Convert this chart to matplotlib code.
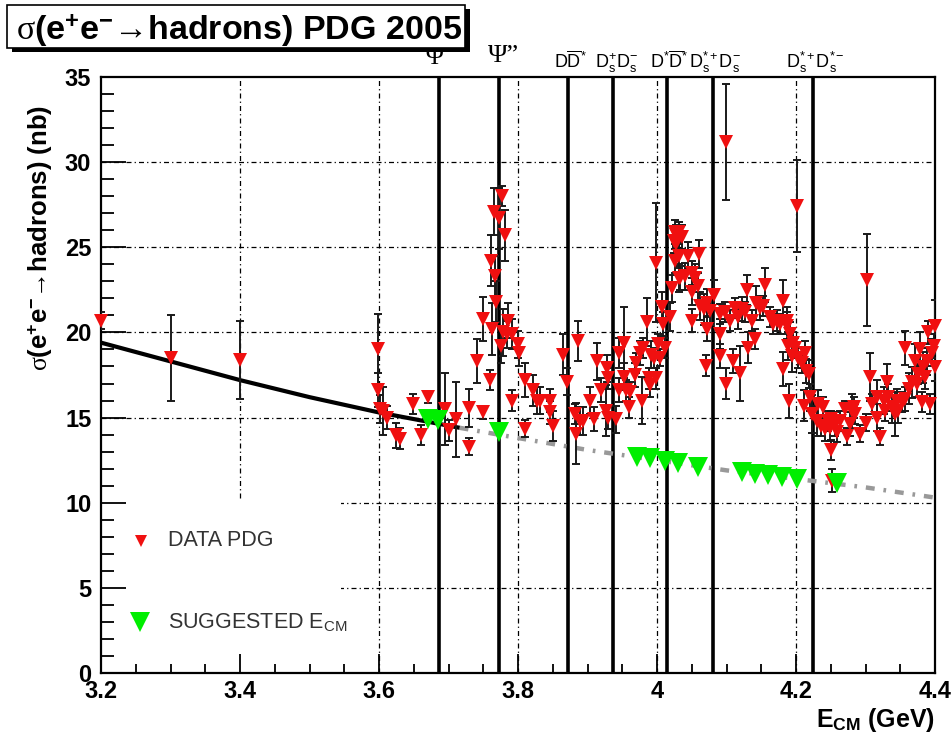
import matplotlib
matplotlib.use('Agg')
import matplotlib.pyplot as plt
from matplotlib.patches import Rectangle
from matplotlib.ticker import MultipleLocator, FixedLocator, FixedFormatter

plt.rcParams['font.family'] = ['Liberation Sans', 'DejaVu Sans']
plt.rcParams['mathtext.fontset'] = 'custom'
plt.rcParams['mathtext.rm'] = 'Liberation Sans:bold'
plt.rcParams['mathtext.bf'] = 'Liberation Sans:bold'
plt.rcParams['mathtext.it'] = 'Liberation Serif'
plt.rcParams['mathtext.sf'] = 'Liberation Sans'

# ---------------- data ----------------
pdg_energy = [3.200, 3.300, 3.400, 3.599, 3.598, 3.601, 3.606, 3.611, 3.625, 3.630,
              3.649, 3.660, 3.671, 3.695, 3.701, 3.711, 3.730, 3.730, 3.741, 3.750,
              3.750, 3.760, 3.761, 3.762, 3.765, 3.767, 3.768, 3.772, 3.775, 3.777,
              3.779, 3.781, 3.784, 3.786, 3.791, 3.791, 3.800, 3.801, 3.810, 3.810,
              3.822, 3.828, 3.831, 3.846, 3.846, 3.851, 3.865, 3.870, 3.882, 3.884,
              3.887, 3.889, 3.894, 3.904, 3.909, 3.913, 3.919, 3.927, 3.928, 3.929,
              3.930, 3.941, 3.945, 3.946, 3.952, 3.952, 3.956, 3.959, 3.961, 3.968,
              3.970, 3.976, 3.978, 3.980, 3.985, 3.988, 3.990, 3.992, 3.995, 3.999,
              3.999, 4.002, 4.004, 4.007, 4.009, 4.012, 4.019, 4.021, 4.024, 4.026,
              4.026, 4.028, 4.028, 4.031, 4.031, 4.032, 4.033, 4.036, 4.040, 4.045,
              4.050, 4.050, 4.050, 4.055, 4.059, 4.061, 4.062, 4.067, 4.071, 4.072,
              4.072, 4.076, 4.082, 4.091, 4.091, 4.091, 4.098, 4.100, 4.100, 4.105,
              4.110, 4.112, 4.117, 4.119, 4.122, 4.127, 4.130, 4.131, 4.136, 4.141,
              4.143, 4.148, 4.153, 4.155, 4.162, 4.167, 4.172, 4.177, 4.181, 4.182,
              4.187, 4.187, 4.189, 4.190, 4.192, 4.195, 4.194, 4.199, 4.201, 4.203,
              4.208, 4.211, 4.213, 4.215, 4.218, 4.220, 4.223, 4.230, 4.232, 4.236,
              4.239, 4.242, 4.246, 4.249, 4.251, 4.251, 4.252, 4.256, 4.259, 4.263,
              4.271, 4.273, 4.278, 4.280, 4.283, 4.285, 4.292, 4.301, 4.302, 4.306,
              4.309, 4.316, 4.316, 4.321, 4.326, 4.328, 4.331, 4.333, 4.338, 4.343,
              4.345, 4.347, 4.352, 4.357, 4.357, 4.362, 4.367, 4.371, 4.374, 4.376,
              4.379, 4.381, 4.383, 4.386, 4.388, 4.390, 4.393, 4.395, 4.398, 4.400,
              4.400]
pdg_sigma = [20.7, 18.5, 18.4, 19.0, 16.6, 15.5, 15.4, 15.0, 13.96, 13.77,
             15.8, 13.96, 16.2, 15.5, 14.25, 14.9, 15.57, 13.28, 18.34, 15.3,
             20.8, 17.2, 24.2, 20.2, 27.1, 23.3, 21.8, 26.7, 19.2, 28.0,
             20.0, 25.7, 19.9, 20.7, 19.9, 16.0, 19.3, 18.8, 17.2, 14.35,
             16.6, 16.0, 16.0, 16.0, 15.3, 14.5, 18.7, 17.1, 15.2, 14.06,
             19.5, 14.8, 14.8, 16.0, 14.9, 18.3, 16.6, 15.4, 17.9, 17.3,
             15.0, 14.9, 18.8, 16.6, 19.4, 17.4, 16.6, 15.6, 16.5, 17.5,
             18.2, 18.8, 16.0, 19.1, 20.6, 17.3, 16.9, 18.7, 18.5, 24.1,
             17.3, 19.3, 18.5, 21.5, 20.5, 19.1, 20.9, 22.6, 25.35, 25.9,
             24.2, 25.2, 25.7, 23.2, 24.5, 25.9, 23.2, 25.6, 23.3, 24.5,
             23.5, 22.4, 20.7, 23.2, 22.7, 24.6, 21.55, 21.36, 18.05, 21.75,
             20.2, 21.26, 22.2, 21.07, 19.9, 18.6, 21.2, 31.2, 17.0, 20.7,
             18.3, 21.45, 20.9, 17.6, 21.36, 21.2, 22.5, 19.1, 20.7, 19.6,
             21.75, 21.45, 21.55, 22.8, 20.9, 20.5, 20.7, 20.5, 21.85, 17.86,
             20.7, 20.4, 19.2, 16.0, 19.9, 19.4, 18.6, 19.1, 27.4, 18.5,
             18.2, 15.7, 18.8, 17.75, 17.56, 16.2, 15.2, 14.8, 15.8, 14.5,
             15.6, 14.35, 14.8, 14.4, 13.1, 14.9, 11.3, 14.6, 14.15, 14.8,
             15.5, 13.9, 14.6, 15.4, 15.6, 15.2, 14.05, 14.7, 23.1, 17.4,
             15.8, 16.2, 15.0, 13.86, 16.0, 15.4, 17.07, 16.2, 15.6, 15.2,
             16.0, 15.4, 15.9, 19.1, 16.1, 16.7, 17.07, 18.3, 17.0, 17.56,
             19.0, 15.9, 17.95, 17.4, 18.3, 20.0, 15.8, 18.8, 19.2, 17.95,
             20.4]
pdg_err = [0.5, 2.5, 2.3, 2.1, 1.0, 0.8, 1.4, 0.7, 0.75, 0.6,
           0.6, 0.6, 0.35, 2.1, 0.6, 2.2, 1.1, 0.5, 1.3, 0.4,
           1.3, 0.6, 1.5, 1.5, 1.4, 1.2, 1.2, 1.8, 1.0, 0.6,
           1.4, 1.5, 0.8, 1.0, 0.9, 0.6, 0.8, 0.8, 1.0, 0.5,
           0.9, 0.8, 0.8, 0.7, 0.7, 0.9, 1.2, 0.8, 0.6, 1.8,
           1.2, 0.8, 0.8, 0.8, 0.7, 1.1, 0.7, 1.5, 0.8, 0.6,
           0.7, 0.8, 0.9, 0.7, 2.1, 0.8, 0.6, 0.6, 0.6, 0.7,
           0.6, 0.7, 1.4, 0.6, 1.4, 0.6, 0.7, 0.8, 0.6, 3.5,
           0.6, 0.6, 0.5, 0.9, 0.7, 0.6, 0.8, 0.8, 0.7, 0.7,
           0.7, 0.6, 0.6, 0.8, 0.7, 0.6, 0.7, 0.7, 0.8, 0.8,
           0.7, 0.8, 0.7, 0.8, 0.8, 0.8, 0.8, 0.9, 0.6, 0.8,
           0.7, 0.8, 0.9, 0.6, 0.9, 0.7, 0.6, 3.4, 0.9, 0.6,
           0.7, 0.6, 0.7, 1.6, 0.7, 0.6, 0.9, 0.9, 0.6, 0.6,
           1.0, 0.7, 0.6, 1.0, 0.6, 0.6, 0.6, 0.6, 1.2, 1.0,
           0.8, 0.8, 0.8, 1.0, 0.7, 0.6, 0.9, 0.6, 2.7, 0.6,
           0.6, 0.9, 0.7, 0.7, 0.8, 0.8, 1.1, 0.9, 0.8, 0.6,
           0.6, 0.7, 0.6, 0.8, 0.6, 0.5, 0.7, 0.7, 0.6, 0.6,
           0.5, 0.5, 0.7, 1.0, 0.6, 0.6, 0.5, 0.5, 2.7, 1.4,
           0.6, 1.0, 0.8, 0.5, 0.8, 0.6, 1.1, 0.8, 0.9, 1.3,
           0.7, 0.7, 0.6, 1.0, 0.7, 0.9, 0.9, 1.0, 0.8, 0.6,
           1.0, 0.6, 0.9, 0.7, 0.8, 0.7, 0.6, 0.8, 0.7, 0.8,
           1.5]

sugg_energy = [3.671, 3.685, 3.772, 3.971, 3.990, 4.012, 4.030, 4.059,
               4.122, 4.141, 4.160, 4.180, 4.201, 4.259]
sugg_sigma = [14.93, 14.85, 14.15, 12.69, 12.6, 12.45, 12.35, 12.1,
              11.8, 11.7, 11.6, 11.5, 11.4, 11.15]

fit_energy = [3.20, 3.30, 3.40, 3.50, 3.60, 3.716]
fit_sigma = [19.4, 18.3, 17.2, 16.2, 15.3, 14.4]
ext_energy = [3.716, 3.80, 3.90, 4.00, 4.10, 4.20, 4.30, 4.40]
ext_sigma = [14.4, 13.8, 13.1, 12.5, 11.9, 11.4, 10.9, 10.3]

threshold_energy = [3.686, 3.773, 3.872, 3.937, 4.014, 4.080, 4.224]
psi_labels = ['\u03a8', '\u03a8\u201d']
dmeson_labels = [r'$\mathsf{D\overline{D}^{*}}$',
                 r'$\mathsf{D_s^{+}D_s^{-}}$',
                 r'$\mathsf{D^{*}\overline{D}^{*}}$',
                 r'$\mathsf{D_s^{*+}D_s^{-}}$',
                 r'$\mathsf{D_s^{*+}D_s^{*-}}$']

x_ticks = [3.2, 3.4, 3.6, 3.8, 4.0, 4.2, 4.4]
x_tick_labels = ['3.2', '3.4', '3.6', '3.8', '4', '4.2', '4.4']
y_ticks = [0, 5, 10, 15, 20, 25, 30, 35]

# ---------------- figure ----------------
W, H = 953, 736
fig = plt.figure(figsize=(W / 100, H / 100), dpi=100)
ax_l, ax_r, ax_t, ax_b = 101, 935, 77, 673
ax = fig.add_axes([ax_l / W, 1 - ax_b / H, (ax_r - ax_l) / W, (ax_b - ax_t) / H])
ax.set_xlim(3.2, 4.4)
ax.set_ylim(0, 35)

red = '#f01010'
green = '#00ee00'
grid_ls = (0, (4, 2.5, 1, 2.5))

# grid (drawn manually so the legend area can hide it)
ax.vlines(x_ticks[1:-1], 0, 35, colors='black', linestyles=grid_ls, linewidth=0.9, zorder=0.5)
ax.hlines(y_ticks[1:-1], 3.2, 4.4, colors='black', linestyles=grid_ls, linewidth=0.9, zorder=0.5)
ax.add_patch(Rectangle((0, 0), 0.288, 0.292, transform=ax.transAxes,
                       facecolor='white', edgecolor='none', zorder=0.8))

# thresholds
for e in threshold_energy:
    ax.axvline(e, color='black', linewidth=2.6, zorder=2)

# fit curve
ax.plot(ext_energy, ext_sigma, color='#999999', linewidth=3.2,
        linestyle=(0, (2.0, 2.0, 0.6, 2.0)), zorder=2.2)
ax.plot(fit_energy, fit_sigma, color='black', linewidth=3.0, zorder=2.3,
        solid_capstyle='butt')

# data
ax.errorbar(pdg_energy, pdg_sigma, yerr=pdg_err, fmt='none', ecolor='#1a1a1a',
            elinewidth=1.4, capsize=3.2, capthick=1.4, zorder=3)
ax.plot(pdg_energy, pdg_sigma, 'v', color=red, markersize=10, markeredgewidth=0,
        zorder=4, clip_on=False)
ax.plot(sugg_energy, sugg_sigma, 'v', color=green, markersize=15, markeredgewidth=0,
        zorder=5)

# axes styling
for s in ax.spines.values():
    s.set_linewidth(1.6)
ax.xaxis.set_major_locator(FixedLocator(x_ticks))
ax.xaxis.set_major_formatter(FixedFormatter(x_tick_labels))
ax.xaxis.set_minor_locator(MultipleLocator(0.05))
ax.yaxis.set_major_locator(FixedLocator(y_ticks))
ax.yaxis.set_minor_locator(MultipleLocator(1))
ax.tick_params(axis='x', which='major', direction='in', length=14, width=1.3, pad=5,
               labelsize=17, top=False)
ax.tick_params(axis='x', which='minor', direction='in', length=6.5, width=1.3, top=False)
ax.tick_params(axis='y', which='major', direction='in', length=18, width=1.3, pad=7,
               labelsize=17, right=False)
ax.tick_params(axis='y', which='minor', direction='in', length=9, width=1.3, right=False)
for lab in ax.get_xticklabels() + ax.get_yticklabels():
    lab.set_fontweight('bold')

# axis titles
ax.text(-0.073, 0.953, r'$\sigma$(e$^{+}$e$^{-}$' + '\u2192hadrons) (nb)',
        transform=ax.transAxes, rotation=90, ha='center', va='top',
        fontsize=18.5, fontweight='bold')
ax.text(1.0, -0.055, r'E$_{\mathrm{CM}}$ (GeV)', transform=ax.transAxes,
        ha='right', va='top', fontsize=18, fontweight='bold')

# threshold labels
ax.text(threshold_energy[0] - 0.006, 35.75, psi_labels[0], family='Liberation Serif',
        fontsize=19, ha='center', va='baseline', clip_on=False)
ax.text(threshold_energy[1] + 0.006, 35.9, psi_labels[1], family='Liberation Serif',
        fontsize=19, ha='center', va='baseline', clip_on=False)
for e, lab in zip(threshold_energy[2:], dmeson_labels):
    ax.text(e + 0.004, 35.55, lab, fontsize=13, ha='center', va='baseline',
            clip_on=False)

# legend (manual)
ax.plot([0.048], [0.222], 'v', color=red, markersize=9, markeredgewidth=0,
        transform=ax.transAxes, clip_on=False, zorder=6)
ax.text(0.080, 0.222, 'DATA PDG', transform=ax.transAxes, ha='left', va='center',
        fontsize=15.5, color='#333333', zorder=6)
ax.plot([0.047], [0.086], 'v', color=green, markersize=15, markeredgewidth=0,
        transform=ax.transAxes, clip_on=False, zorder=6)
ax.text(0.080, 0.086, r'SUGGESTED E$_{\mathsf{CM}}$', transform=ax.transAxes,
        ha='left', va='center', fontsize=15.5, color='#333333', zorder=6)

# title box with shadow
bx0, by0, bx1, by1 = 7, 5, 465, 48
fig.patches.append(Rectangle(((bx0 + 5) / W, 1 - (by1 + 4) / H), (bx1 - bx0) / W,
                             (by1 - by0) / H, transform=fig.transFigure,
                             facecolor='black', edgecolor='none', zorder=10))
fig.patches.append(Rectangle((bx0 / W, 1 - by1 / H), (bx1 - bx0) / W, (by1 - by0) / H,
                             transform=fig.transFigure, facecolor='white',
                             edgecolor='black', linewidth=1.2, zorder=11))
fig.text(16 / W, 1 - 40 / H, r'$\sigma$(e$^{+}$e$^{-}$' + '\u2192hadrons) PDG 2005',
         ha='left', va='baseline', fontsize=24.5, fontweight='bold', zorder=12)

fig.savefig('out.png', dpi=100)
